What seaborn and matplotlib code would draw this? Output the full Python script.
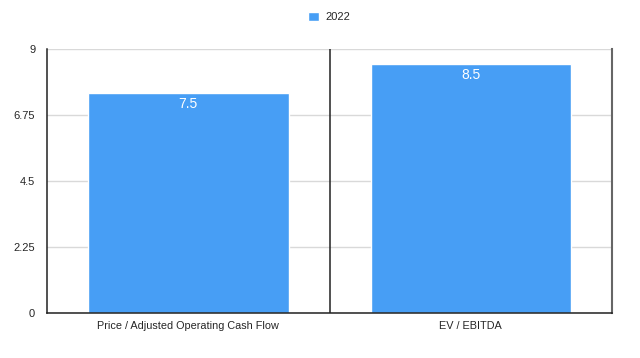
import matplotlib
matplotlib.use('Agg')
import matplotlib.pyplot as plt
import pandas as pd
import seaborn as sns

# Data
categories = ['Price / Adjusted Operating Cash Flow', 'EV / EBITDA']
values_2022 = [7.5, 8.5]
y_ticks = [0, 2.25, 4.5, 6.75, 9]
y_tick_labels = ['0', '2.25', '4.5', '6.75', '9']

df = pd.DataFrame({'metric': categories, 'value': values_2022, 'year': '2022'})

sns.set_style('white')
plt.rcParams['font.family'] = ['Liberation Sans', 'DejaVu Sans']

fig = plt.figure(figsize=(6.4, 3.58), dpi=100)
ax = fig.add_axes([0.0734, 0.1257, 0.883, 0.7374])

sns.barplot(data=df, x='metric', y='value', hue='year', palette=['#479ef5'],
            width=0.71, ax=ax, saturation=1)

ax.set_ylim(0, 9)
ax.set_xlim(-0.5, 1.5)
ax.set_yticks(y_ticks)
ax.set_yticklabels(y_tick_labels, fontsize=8)
ax.tick_params(axis='x', labelsize=7.8, length=0, pad=6)
ax.tick_params(axis='y', length=0, pad=8.5)
ax.set_xlabel('')
ax.set_ylabel('')

ax.yaxis.grid(True, color='#d9d9d9', linewidth=1)
ax.set_axisbelow(True)
ax.axvline(0.5, color='#222222', linewidth=1.1)

for side in ['left', 'bottom']:
    ax.spines[side].set_color('#222222')
    ax.spines[side].set_linewidth(1.1)
ax.spines['right'].set_color('#666666')
ax.spines['right'].set_linewidth(1.5)
ax.spines['top'].set_visible(False)

for container in ax.containers:
    ax.bar_label(container, labels=[f'{v:g}' for v in values_2022],
                 padding=-13, color='white', fontsize=10)

ax.legend(loc='center', bbox_to_anchor=(0.5, 1.121), frameon=False,
          handlelength=0.95, handleheight=0.95, fontsize=8, handletextpad=0.6)

fig.savefig('out.png', dpi=100)
